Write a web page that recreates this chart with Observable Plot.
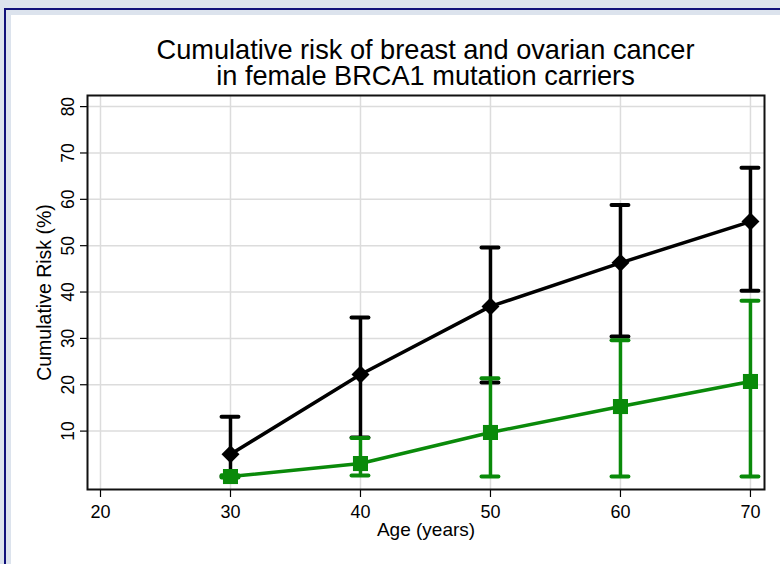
<!DOCTYPE html>
<html>
<head>
<meta charset="utf-8">
<script src="https://cdn.jsdelivr.net/npm/d3@7"></script>
<script src="https://cdn.jsdelivr.net/npm/@observablehq/plot@0.6"></script>
<style>
  html, body { margin: 0; padding: 0; background: #dce3ed; }
  #wrap { position: relative; width: 780px; height: 564px; overflow: hidden; background: #dce3ed; font-family: "Liberation Sans", Arial, sans-serif; }
  #navy { position: absolute; left: 4px; top: 8px; width: 800px; height: 600px; border-left: 2px solid #10107a; border-top: 2px solid #10107a; box-sizing: border-box; }
  #panel { position: absolute; left: 11px; top: 15px; width: 780px; height: 560px; background: #ffffff; }
  .title { position: absolute; left: 0; width: 851px; text-align: center; font-size: 27.2px; line-height: 27px; color: #000; white-space: nowrap; }
  #chart { position: absolute; left: 0; top: 0; }
</style>
</head>
<body>
<div id="wrap">
  <div id="navy"></div>
  <div id="panel"></div>
  <div id="chart"></div>
  <div class="title" style="top:36px">Cumulative risk of breast and ovarian cancer</div>
  <div class="title" style="top:62px">in female BRCA1 mutation carriers</div>
</div>
<script>
const ages = [30, 40, 50, 60, 70];
const breastRisk = [5.0, 22.2, 36.9, 46.3, 55.2];
const breastLow = [0.2, 8.6, 20.5, 30.4, 40.3];
const breastHigh = [13.1, 34.5, 49.6, 58.8, 66.8];
const ovarianRisk = [0.2, 3.0, 9.7, 15.3, 20.7];
const ovarianLow = [0.0, 0.4, 0.2, 0.2, 0.2];
const ovarianHigh = [0.5, 8.5, 21.4, 29.6, 38.1];
const xTicks = [20, 30, 40, 50, 60, 70];
const yTicks = [10, 20, 30, 40, 50, 60, 70, 80];
const xTitle = "Age (years)";
const yTitle = "Cumulative Risk (%)";

const breast = ages.map((a, i) => ({age: a, v: breastRisk[i], lo: breastLow[i], hi: breastHigh[i]}));
const ovarian = ages.map((a, i) => ({age: a, v: ovarianRisk[i], lo: ovarianLow[i], hi: ovarianHigh[i]}));

const BLACK = "#000000";
const GREEN = "#0a8a0a";
const CAP = 0.65;

function series(data, color, symbol, r) {
  return [
    Plot.line(data, {x: "age", y: "v", stroke: color, strokeWidth: 3.5}),
    Plot.ruleX(data, {x: "age", y1: "lo", y2: "hi", stroke: color, strokeWidth: 3.5}),
    Plot.ruleY(data, {y: "hi", x1: d => d.age - CAP, x2: d => d.age + CAP, stroke: color, strokeWidth: 4, strokeLinecap: "round"}),
    Plot.ruleY(data, {y: "lo", x1: d => d.age - CAP, x2: d => d.age + CAP, stroke: color, strokeWidth: 4, strokeLinecap: "round"}),
    Plot.dot(data, {x: "age", y: "v", symbol: symbol, r: r, fill: color, stroke: null})
  ];
}

const chart = Plot.plot({
  width: 780,
  height: 564,
  marginLeft: 87,
  marginRight: 16,
  marginTop: 95,
  marginBottom: 75,
  style: {fontFamily: "'Liberation Sans', Arial, sans-serif", background: "transparent", color: "#000"},
  x: {domain: [19, 71.08]},
  y: {domain: [-2.6, 82.4]},
  marks: [
    Plot.gridX(xTicks, {stroke: "#dcdcdc", strokeOpacity: 1, strokeWidth: 1.5}),
    Plot.gridY(yTicks, {stroke: "#dcdcdc", strokeOpacity: 1, strokeWidth: 1.5}),
    Plot.axisX(xTicks, {tickSize: 8, tickPadding: 8, fontSize: 18, label: null, stroke: "#000", strokeWidth: 1.2}),
    Plot.axisY(yTicks, {tickSize: 7, tickPadding: 7, fontSize: 17.5, tickRotate: -90, label: null, stroke: "#000", strokeWidth: 1.2}),
    Plot.text([xTitle], {frameAnchor: "bottom", dy: 46, lineAnchor: "bottom", fontSize: 19, fill: "#000"}),
    Plot.text([yTitle], {frameAnchor: "left", dx: -50, rotate: -90, lineAnchor: "top", textAnchor: "middle", fontSize: 19.5, fill: "#000"}),
    ...series(breast, BLACK, "diamond2", 8.1),
    ...series(ovarian, GREEN, "square", 8.5),
    Plot.frame({stroke: "#111", strokeWidth: 2})
  ]
});
document.getElementById("chart").appendChild(chart);
</script>
</body>
</html>
